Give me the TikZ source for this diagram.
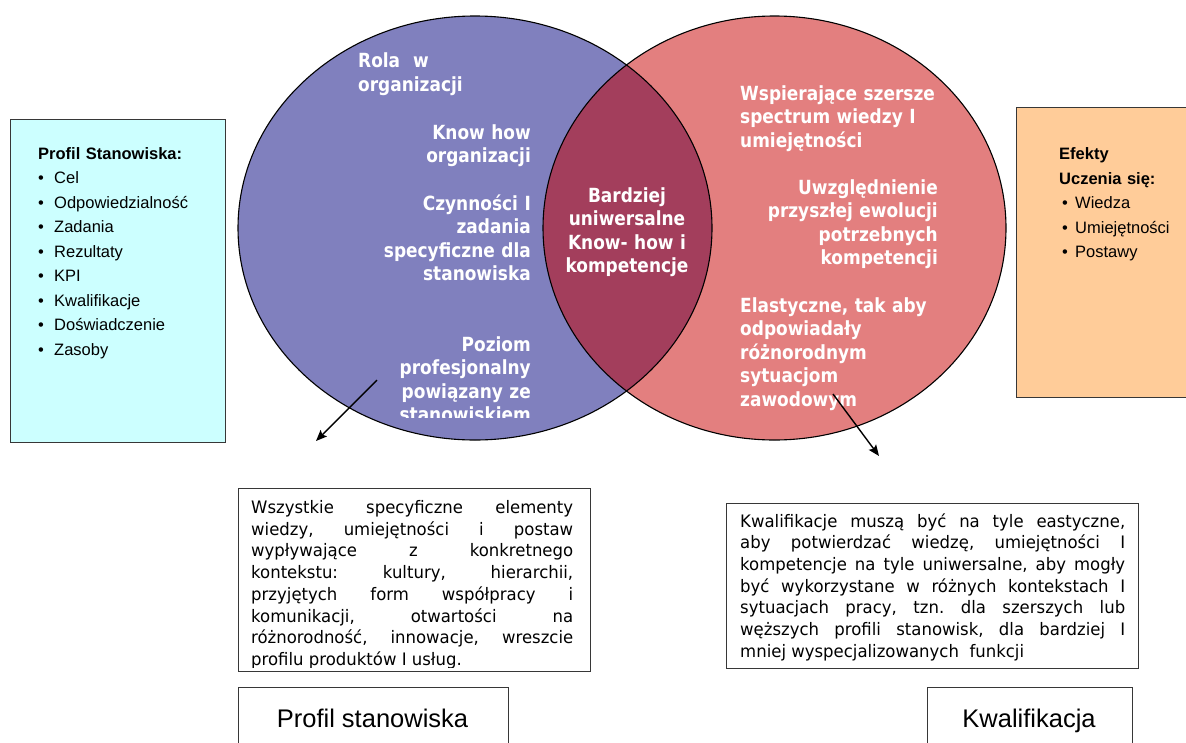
\documentclass[tikz,border=0pt]{standalone}
\usepackage{fontspec}
\setmainfont{Liberation Sans}
\newfontfamily\vennfont[FakeStretch=0.87]{DejaVu Sans}
\newfontfamily\notefont[FakeStretch=0.96]{DejaVu Sans}
\usetikzlibrary{arrows.meta}

\definecolor{setblue}{RGB}{128,128,190}
\definecolor{setred}{RGB}{227,127,127}
\definecolor{setboth}{RGB}{163,62,92}
\definecolor{cyanbox}{RGB}{204,255,255}
\definecolor{peachbox}{RGB}{255,204,153}
\definecolor{boxedge}{RGB}{55,55,55}

% one justified line of fixed width
\newcommand\justline[2]{\makebox[#1][s]{#2}}
\newcommand\listitem[1]{\makebox[16pt][l]{\textbullet}#1}
\frenchspacing

\begin{document}
\begin{tikzpicture}[x=1pt,y=-1pt,
  panel/.style={draw=boxedge, line width=1.3pt, anchor=north west, inner sep=0pt},
  venntext/.style={font=\vennfont\bfseries\fontsize{19.5}{23.6}\selectfont,
    text=white, inner sep=0pt, text width=230pt},
  listtext/.style={font=\fontsize{16.5}{24.5}\selectfont, inner sep=0pt,
    text width=180pt, align=left, anchor=base west},
  notetext/.style={font=\notefont\fontsize{17.2}{21.7}\selectfont\frenchspacing, inner sep=0pt,
    align=justify, anchor=base west},
  bigtext/.style={font=\fontsize{25.5}{30}\selectfont, inner sep=0pt, anchor=base},
  pointer/.style={line width=1.4pt, -{Stealth[length=11pt,width=9pt,inset=2pt]}}]
\useasboundingbox (0,0) rectangle (1186,742);

% --- the two sets and their common part
\fill[setblue] (475,228) ellipse [x radius=237pt, y radius=212pt];
\fill[setred] (774.5,228) ellipse [x radius=231.5pt, y radius=212pt];
\begin{scope}
  \clip (475,228) ellipse [x radius=237pt, y radius=212pt];
  \fill[setboth] (774.5,228) ellipse [x radius=231.5pt, y radius=212pt];
\end{scope}
\draw[line width=1.1pt] (475,228) ellipse [x radius=237pt, y radius=212pt];
\draw[line width=1.1pt] (774.5,228) ellipse [x radius=231.5pt, y radius=212pt];

% --- texts of the left set
\node[venntext, align=left, anchor=base west] (rola) at (358,67.5)
  {Rola~~w\\organizacji};
\node[venntext, align=right, anchor=base east] (knowhow) at (531,139)
  {Know how\\organizacji};
\node[venntext, align=right, anchor=base east] (czynnosci) at (531,210)
  {Czynności I\\zadania\\specyficzne dla\\stanowiska};
\begin{scope}
  \clip (300,320) rectangle (560,417.5);
  \node[venntext, align=right, anchor=base east] (poziom) at (531,351)
    {Poziom\\profesjonalny\\powiązany ze\\stanowiskiem};
\end{scope}

% --- text of the common part
\node[venntext, text width=160pt, align=center, anchor=base] (wspolne) at (627,202)
  {Bardziej\\uniwersalne\\Know- how i\\kompetencje};

% --- texts of the right set
\node[venntext, align=left, anchor=base west] (spectrum) at (740,100)
  {Wspierające szersze\\spectrum wiedzy I\\umiejętności};
\node[venntext, align=right, anchor=base east] (ewolucja) at (938,194)
  {Uwzględnienie\\przyszłej ewolucji\\potrzebnych\\kompetencji};
\node[venntext, align=left, anchor=base west] (elastyczne) at (740,312)
  {Elastyczne, tak aby\\odpowiadały\\różnorodnym\\sytuacjom\\zawodowym};

% --- side panels
\node[panel, fill=cyanbox, minimum width=215pt, minimum height=323pt] (profilpanel) at (10,119) {};
\node[listtext] (profillist) at (38,159)
  {\textbf{Profil Stanowiska:}\\
   \listitem{Cel}\\
   \listitem{Odpowiedzialność}\\
   \listitem{Zadania}\\
   \listitem{Rezultaty}\\
   \listitem{KPI}\\
   \listitem{Kwalifikacje}\\
   \listitem{Doświadczenie}\\
   \listitem{Zasoby}};

\node[panel, fill=peachbox, minimum width=185pt, minimum height=290pt] (efektypanel) at (1016,107) {};
\node[listtext] (efektylist) at (1059,159.5)
  {\textbf{Efekty}\\
   \textbf{Uczenia się:}\\
   \hspace*{3pt}\makebox[13pt][l]{\textbullet}Wiedza\\
   \hspace*{3pt}\makebox[13pt][l]{\textbullet}Umiejętności\\
   \hspace*{3pt}\makebox[13pt][l]{\textbullet}Postawy};

% --- explanatory notes
\node[panel, minimum width=352pt, minimum height=183pt] (notaprofil) at (238,488) {};
\begin{scope}
  \clip (240,490) rectangle (588,667);
  \node[notetext, text width=322pt] (notaprofiltxt) at (251,513.5)
    {\justline{322pt}{Wszystkie specyficzne elementy}\\
     \justline{322pt}{wiedzy, umiejętności i postaw}\\
     \justline{322pt}{wypływające z konkretnego}\\
     \justline{322pt}{kontekstu: kultury, hierarchii,}\\
     \justline{322pt}{przyjętych form współpracy i}\\
     \justline{322pt}{komunikacji, otwartości na}\\
     \justline{322pt}{różnorodność, innowacje, wreszcie}\\
     profilu produktów I usług.};
\end{scope}

\node[panel, minimum width=412pt, minimum height=165pt] (notakwal) at (726,503) {};
\node[notetext, text width=385pt] (notakwaltxt) at (740,527)
  {\justline{385pt}{Kwalifikacje muszą być na tyle eastyczne,}\\
   \justline{385pt}{aby potwierdzać wiedzę, umiejętności I}\\
   \justline{385pt}{kompetencje na tyle uniwersalne, aby mogły}\\
   \justline{385pt}{być wykorzystane w różnych kontekstach I}\\
   \justline{385pt}{sytuacjach pracy, tzn. dla szerszych lub}\\
   \justline{385pt}{węższych profili stanowisk, dla bardziej I}\\
   mniej wyspecjalizowanych~ funkcji};

% --- title boxes
\node[panel, minimum width=270pt, minimum height=80pt] (profilframe) at (237.5,686.5) {};
\node[bigtext] (profiltitle) at (372.5,727) {Profil stanowiska};
\node[panel, minimum width=205.5pt, minimum height=80pt] (kwalframe) at (926.5,686.5) {};
\node[bigtext] (kwaltitle) at (1029,727) {Kwalifikacja};

% --- pointers from the sets towards the notes
\coordinate (lstart) at (377,380);
\coordinate (lend) at (316,441);
\coordinate (rstart) at (833,394);
\coordinate (rend) at (879,456);
\draw[pointer] (lstart) -- (lend);
\draw[pointer] (rstart) -- (rend);
\end{tikzpicture}
\end{document}
